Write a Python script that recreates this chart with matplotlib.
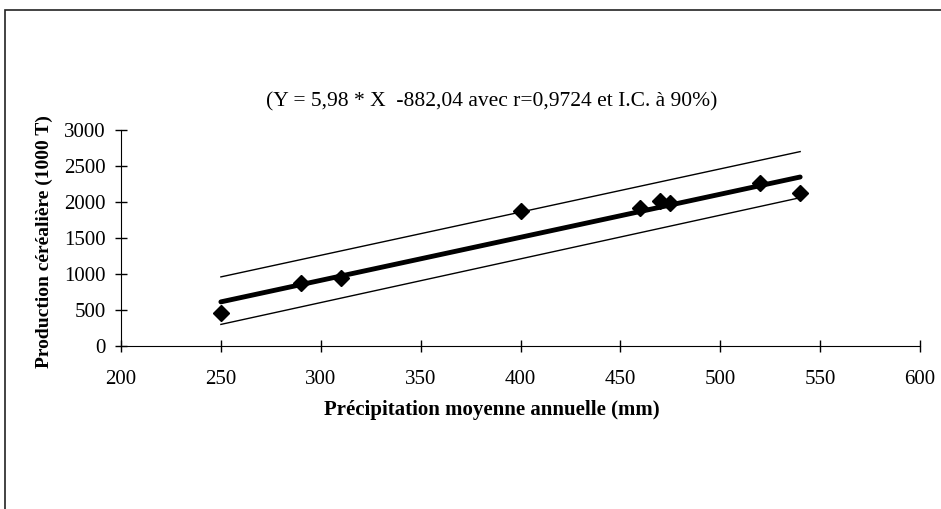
import matplotlib.pyplot as plt
from matplotlib.patches import Rectangle

# observed values
precip = [250, 290, 310, 400, 460, 470, 475, 520, 540]
production = [460, 880, 940, 1870, 1920, 2020, 1990, 2260, 2130]

# regression and confidence band end points
reg_x = [250, 540]
reg_y = [5.98 * x - 882.04 for x in reg_x]
ci_upper = [960, 2700]
ci_lower = [300, 2060]

xticks = [200, 250, 300, 350, 400, 450, 500, 550, 600]
yticks = [0, 500, 1000, 1500, 2000, 2500, 3000]

plt.rcParams['font.family'] = ['Liberation Serif', 'DejaVu Serif']

fig = plt.figure(figsize=(9.41, 5.09), dpi=100)
ax = fig.add_axes([0.1286, 0.3202, 0.8491, 0.4244])

# outer frame of the scanned figure
fig.patches.append(Rectangle((5 / 941, -0.1), 1.2, 1 - 10 / 509 + 0.1,
                             transform=fig.transFigure, fill=False,
                             edgecolor='#222222', linewidth=1.2))

ax.plot(reg_x, ci_upper, color='black', linewidth=1.0)
ax.plot(reg_x, ci_lower, color='black', linewidth=1.0)
ax.plot(reg_x, reg_y, color='black', linewidth=3.5, solid_capstyle='round')
ax.plot(precip, production, linestyle='none', marker='D', color='black', markersize=8)

ax.set_xlim(200, 600)
ax.set_ylim(0, 3000)
ax.set_xticks(xticks)
ax.set_yticks(yticks)
ax.spines['top'].set_visible(False)
ax.spines['right'].set_visible(False)
ax.tick_params(direction='inout', length=8, width=1, labelsize=15)
ax.tick_params(axis='x', pad=13)
ax.tick_params(axis='y', pad=7)

fig.text(492 / 941, 1 - 410 / 509, 'Précipitation moyenne annuelle (mm)',
         fontsize=15, fontweight='bold', ha='center', va='center')
fig.text(44 / 941, 1 - 242 / 509, 'Production céréalière (1000 T)',
         fontsize=14, fontweight='bold', ha='center', va='center', rotation=90)
fig.text(492 / 941, 1 - 102 / 509, '(Y = 5,98 * X  -882,04 avec r=0,9724 et I.C. à 90%)',
         fontsize=15.5, ha='center', va='center')

fig.savefig('out.png', dpi=100)
